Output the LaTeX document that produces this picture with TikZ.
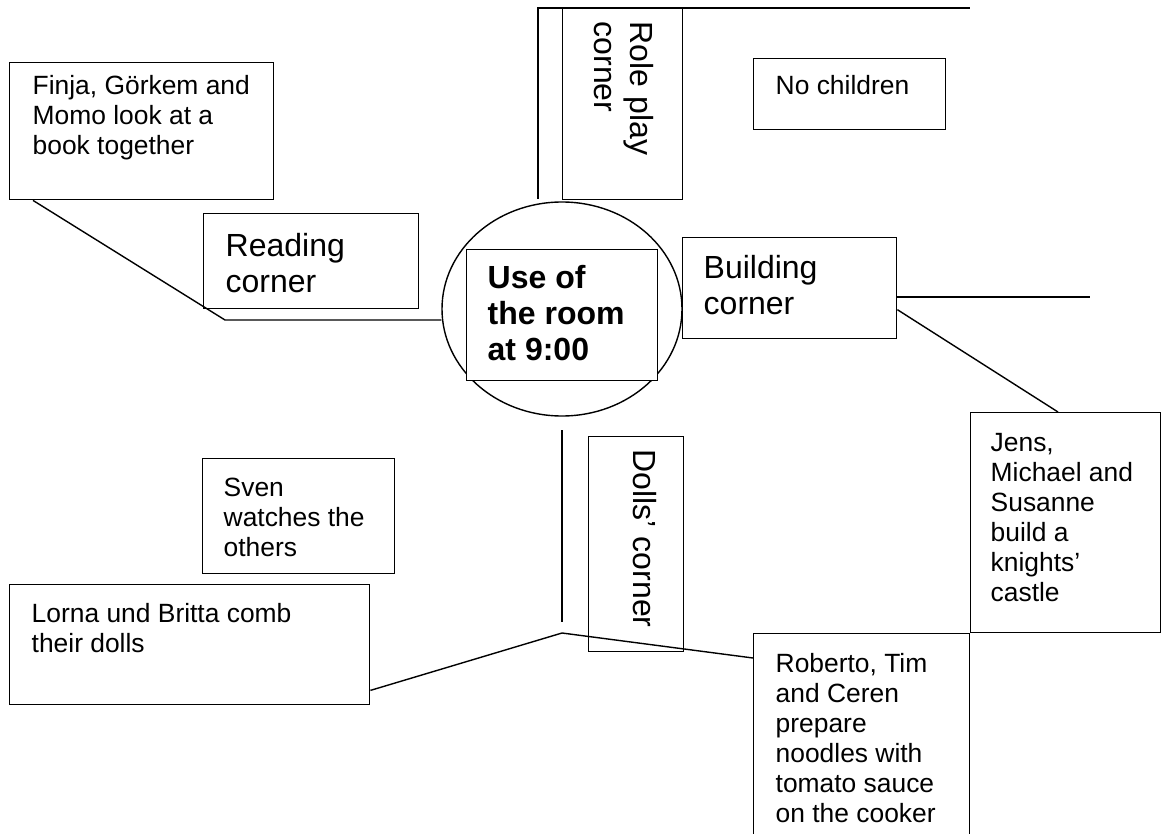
\documentclass[tikz,border=0pt]{standalone}
\usepackage{fontspec}
\setmainfont{Liberation Sans}
\usetikzlibrary{shapes.geometric, positioning}

\newcommand{\notefont}{\fontsize{26.4}{30}\selectfont}
\newcommand{\areafont}{\fontsize{32}{36}\selectfont}

\begin{document}
\begin{tikzpicture}[x=1pt, y=-1pt, line width=1.4pt]
	\tikzstyle{box} = [rectangle, draw, fill=white, anchor=north west, inner sep=0pt]
	\tikzstyle{note} = [anchor=north west, align=left, inner sep=0pt, font=\notefont]
	\tikzstyle{area} = [anchor=north west, align=left, inner sep=0pt, font=\areafont]

	\useasboundingbox (0,0) rectangle (1161,834);
	\clip (0,0) rectangle (1161,834);

	% centre
	\node[ellipse, draw, minimum width=240pt, minimum height=214pt, inner sep=0pt] (hub) at (562,309) {};
	\node[box, minimum width=191pt, minimum height=131pt] (use) at (466,249) {};
	\node[area, font=\areafont\bfseries] (use t) at ([shift={(21,16)}]use.north west) {Use of\\the room\\at 9:00};

	% corners
	\node[box, minimum width=215pt, minimum height=95pt] (reading) at (203,213) {};
	\node[area] (reading t) at ([shift={(22,20)}]reading.north west) {Reading\\corner};
	\node[box, minimum width=120pt, minimum height=191pt] (roleplay) at (562,8) {};
	\node[area, rotate=-90] (roleplay t) at ([shift={(-29,13)}]roleplay.north east) {Role play\\corner};
	\node[box, minimum width=214pt, minimum height=101pt] (building) at (682,237) {};
	\node[area] (building t) at ([shift={(21,18)}]building.north west) {Building\\corner};
	\node[box, fill=none, minimum width=95pt, minimum height=215pt] (dolls) at (588,436) {};
	\node[area, rotate=-90] (dolls t) at ([shift={(-27,13)}]dolls.north east) {Dolls’ corner};

	% children
	\node[box, minimum width=264pt, minimum height=137pt] (finja) at (9,62) {};
	\node[note] (finja t) at ([shift={(23,13)}]finja.north west) {Finja, Görkem and\\Momo look at a\\book together};
	\node[box, minimum width=192pt, minimum height=71pt] (nochild) at (753,58) {};
	\node[note] (nochild t) at ([shift={(22,17)}]nochild.north west) {No children};
	\node[box, minimum width=190pt, minimum height=220pt] (jens) at (970,412) {};
	\node[note] (jens t) at ([shift={(20,21)}]jens.north west) {Jens,\\Michael and\\Susanne\\build a\\knights’\\castle};
	\node[box, minimum width=216pt, minimum height=210pt] (roberto) at (753,633) {};
	\node[note] (roberto t) at ([shift={(22,20)}]roberto.north west) {Roberto, Tim\\and Ceren\\prepare\\noodles with\\tomato sauce\\on the cooker};
	\node[box, minimum width=192pt, minimum height=115pt] (sven) at (202,458) {};
	\node[note] (sven t) at ([shift={(21,19)}]sven.north west) {Sven\\watches the\\others};
	\node[box, minimum width=360pt, minimum height=120pt] (lorna) at (9,584) {};
	\node[note] (lorna t) at ([shift={(22,19)}]lorna.north west) {Lorna und Britta comb\\their dolls};

	% walls
	\coordinate (rp low) at (538,199);
	\coordinate (rp top) at (538,8);
	\coordinate (rp end) at (970,8);
	\coordinate (bc end) at (1090,297);
	\coordinate (dc top) at (562,430);
	\coordinate (dc low) at (562,622);
	\draw (rp low) -- (rp top) -- (rp end);
	\draw (building.east |- bc end) -- (bc end);
	\draw (dc top) -- (dc low);

	% connectors
	\coordinate (rd knee) at (225,320);
	\coordinate (dc knee) at (562,633);
	\draw ([xshift=24pt]finja.south west) -- (rd knee) -- (rd knee -| hub.west);
	\draw ([yshift=-21.5pt]building.east) -- ([xshift=88pt]jens.north west);
	\draw ([yshift=15pt]lorna.south east) -- (dc knee) -- ([yshift=-25pt]roberto.north west);
\end{tikzpicture}
\end{document}
